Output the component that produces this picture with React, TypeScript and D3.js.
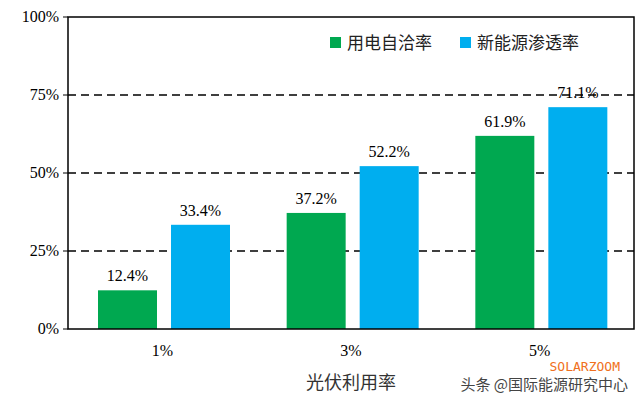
import * as d3 from 'd3';

const categories = ['1%', '3%', '5%'];
const seriesNames = ['用电自洽率', '新能源渗透率'];
const selfSufficiency = [12.4, 37.2, 61.9];
const penetration = [33.4, 52.2, 71.1];
const yTicks = [0, 25, 50, 75, 100];
const colors = ['#00a850', '#00aeef'];

export default function App() {
  const W = 640, H = 401;
  const m = { left: 68, right: 634, top: 17, bottom: 329 };
  const x0 = d3.scaleBand<string>().domain(categories).range([m.left, m.right]);
  const x1 = d3.scaleBand<string>().domain(seriesNames).range([30, 162]).paddingInner(0.192);
  const y = d3.scaleLinear().domain([0, 100]).range([m.bottom, m.top]);
  const values = [selfSufficiency, penetration];
  const serif = '"Liberation Serif", "DejaVu Serif", serif';
  const cjk = '"Noto Sans CJK SC", sans-serif';

  return (
    <svg width={W} height={H} style={{ position: 'absolute', left: 0, top: 0, background: '#fff' }}>
      {yTicks.slice(1, 4).map(t => (
        <line key={t} x1={m.left} x2={m.right} y1={y(t)} y2={y(t)} stroke="#000" strokeWidth={1.5} strokeDasharray="8,5" />
      ))}
      {categories.map((c, i) =>
        seriesNames.map((s, j) => {
          const v = values[j][i];
          const bx = x0(c)! + x1(s)!;
          return (
            <g key={c + s}>
              <rect x={bx} y={y(v)} width={x1.bandwidth()} height={y(0) - y(v)} fill={colors[j]} />
              <text x={bx + x1.bandwidth() / 2} y={y(v) - 9} textAnchor="middle" fontFamily={serif} fontSize={16}>
                {v.toFixed(1)}%
              </text>
            </g>
          );
        })
      )}
      <rect x={m.left} y={m.top} width={m.right - m.left} height={m.bottom - m.top} fill="none" stroke="#000" strokeWidth={1.5} />
      {yTicks.map(t => (
        <g key={t}>
          <line x1={m.left - 5} x2={m.left} y1={y(t)} y2={y(t)} stroke="#000" />
          <text x={m.left - 9} y={y(t) + 5} textAnchor="end" fontFamily={serif} fontSize={16}>{t}%</text>
        </g>
      ))}
      {categories.map(c => (
        <text key={c} x={x0(c)! + x0.bandwidth() / 2} y={356} textAnchor="middle" fontFamily={serif} fontSize={16}>{c}</text>
      ))}
      <text x={351} y={389} textAnchor="middle" fontFamily={cjk} fontSize={18} fill="#333">光伏利用率</text>
      {seriesNames.map((s, j) => {
        const lx = j === 0 ? 330 : 460;
        return (
          <g key={s}>
            <rect x={lx} y={37} width={11} height={11} fill={colors[j]} />
            <text x={lx + 17} y={49} fontFamily={cjk} fontSize={17} fill="#222">{s}</text>
          </g>
        );
      })}
      <text x={620} y={371} textAnchor="end" fontFamily='"DejaVu Sans Mono", monospace' fontSize={13} fill="#f07020">SOLARZOOM</text>
      <text x={628} y={390} textAnchor="end" fontFamily={cjk} fontSize={15} fill="#444">头条 @国际能源研究中心</text>
    </svg>
  );
}
